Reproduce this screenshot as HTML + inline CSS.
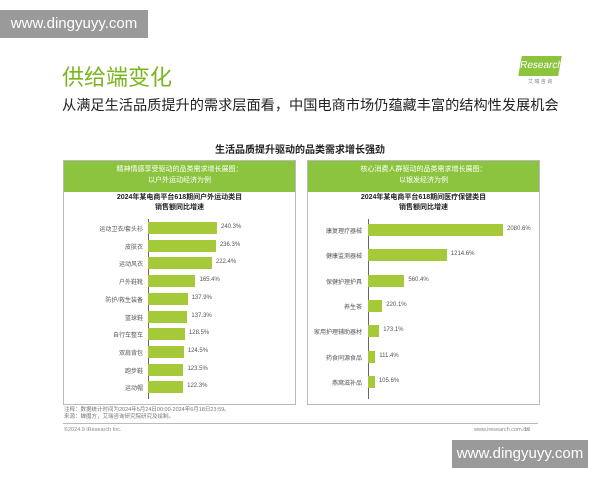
<!DOCTYPE html>
<html><head><meta charset="utf-8"><style>
body{margin:0;width:600px;height:480px;background:#fff;position:relative;overflow:hidden;font-family:"Liberation Sans","Noto Sans CJK SC",sans-serif}
.a{position:absolute;white-space:nowrap}
.wm{background:#9a9a9a;color:#fff;font-size:15px;text-align:center;line-height:28px}
.box{position:absolute;border:1px solid #bbb;top:160px;height:243px;width:231px}
.hd{position:absolute;left:0;top:0;right:0;height:28px;background:#8cc43f;color:#fff;font-size:7px;text-align:center;line-height:11px;padding-top:3px}
.bar{position:absolute;height:12px;background:#a6c93a}
.lb{position:absolute;font-size:6px;color:#555;text-align:right}
.v{position:absolute;font-size:6px;color:#555}
</style></head><body>
<div class="a wm" style="left:0;top:10px;width:148px">www.dingyuyy.com</div>
<div class="a" style="left:62px;top:60px;font-size:22px;color:#7ab51d">供给端变化</div>
<div class="a" style="left:62px;top:95px;font-size:14.2px;color:#222">从满足生活品质提升的需求层面看，中国电商市场仍蕴藏丰富的结构性发展机会</div>
<div class="a" style="left:520px;top:56px;width:40px;height:20px;background:#8cc43f;color:#fff;font-size:10px;line-height:20px;text-align:center;transform:skewX(-10deg)">Research</div>
<div class="a" style="left:528px;top:78px;font-size:5px;color:#888">艾 瑞 咨 询</div>
<div class="a" style="left:0;width:600px;top:141px;text-align:center;font-size:10px;font-weight:bold;color:#222">生活品质提升驱动的品类需求增长强劲</div>

<div class="box" style="left:63px">
<div class="hd">精神情感享受驱动的品类需求增长展图：<br>以户外运动经济为例</div>
<div class="a" style="left:0;width:231px;top:32px;text-align:center;font-size:7px;font-weight:bold;line-height:10px;color:#222">2024年某电商平台618期间户外运动类目<br>销售额同比增速</div>
<div style="position:absolute;left:84px;top:58px;width:1px;height:180px;background:#666"></div>
</div>
<div class="box" style="left:307px">
<div class="hd">核心消费人群驱动的品类需求增长展图：<br>以银发经济为例</div>
<div class="a" style="left:0;width:231px;top:32px;text-align:center;font-size:7px;font-weight:bold;line-height:10px;color:#222">2024年某电商平台618期间医疗保健类目<br>销售额同比增速</div>
<div style="position:absolute;left:60px;top:58px;width:1px;height:180px;background:#666"></div>
</div>
<div id="L"></div>
<div class="a" style="left:64px;top:407px;font-size:5.5px;color:#777;line-height:7px">注释：数据统计时间为2024年5月24日00:00-2024年6月18日23:59。<br>来源：蝉魔方，艾瑞咨询研究院研究及绘制。</div>
<div class="a" style="left:63px;top:423px;width:475px;height:1px;background:#bbb"></div>
<div class="a" style="left:64px;top:427px;font-size:5.5px;color:#888">©2024.9 iResearch Inc.</div>
<div class="a" style="left:474px;top:427px;font-size:5.5px;color:#888">www.iresearch.com.cn</div>
<div class="a" style="left:524px;top:427px;font-size:5.5px;color:#888">10</div>
<div class="a wm" style="left:452px;top:440px;width:136px">www.dingyuyy.com</div>
<script>
var L=[["运动卫衣/套头衫",240.3],["皮肤衣",236.3],["运动风衣",222.4],["户外鞋靴",165.4],["防护/救生装备",137.9],["篮球鞋",137.3],["自行车整车",128.5],["双肩背包",124.5],["跑步鞋",123.5],["运动帽",122.3]];
var R=[["康复理疗器械",2080.6],["健康监测器械",1214.6],["保健护理护具",560.4],["养生茶",220.1],["家用护理辅助器材",173.1],["药食同源食品",111.4],["燕窝滋补品",105.6]];
var h="";
L.forEach(function(d,i){var y=222+i*17.7;var w=d[1]/240.3*69;
h+='<div class="lb" style="left:60px;width:83px;top:'+(y+2)+'px">'+d[0]+'</div><div class="bar" style="left:148px;top:'+y+'px;width:'+w+'px"></div><div class="v" style="left:'+(152+w)+'px;top:'+(y+2)+'px">'+d[1].toFixed(1)+'%</div>';});
R.forEach(function(d,i){var y=224+i*25.3;var w=d[1]/2080.6*135;
h+='<div class="lb" style="left:300px;width:62px;top:'+(y+2)+'px">'+d[0]+'</div><div class="bar" style="left:368px;top:'+y+'px;width:'+w+'px"></div><div class="v" style="left:'+(372+w)+'px;top:'+(y+2)+'px">'+d[1].toFixed(1)+'%</div>';});
document.getElementById("L").innerHTML=h;
</script>
</body></html>
